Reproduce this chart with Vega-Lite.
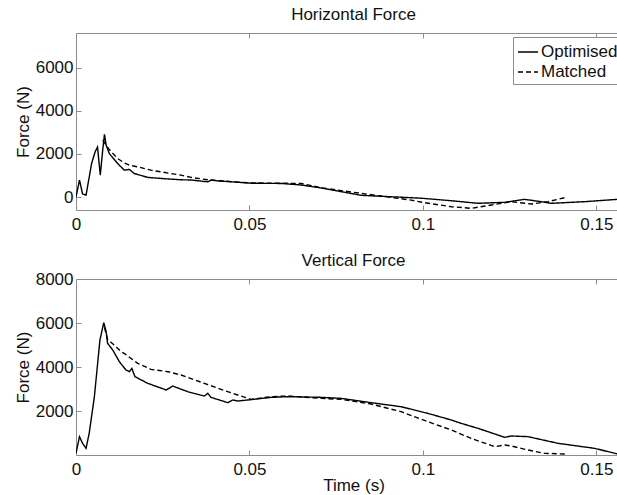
{
  "$schema": "https://vega.github.io/schema/vega-lite/v6.json",
  "background": "white",
  "padding": {"left": 13, "top": 5, "right": 0, "bottom": 0},
  "bounds": "flush",
  "spacing": 69,
  "config": {
    "font": "Liberation Sans",
    "view": {"stroke": "#8c8c8c", "strokeWidth": 1},
    "axis": {
      "domain": false,
      "tickColor": "#8c8c8c",
      "tickSize": 5,
      "grid": false,
      "labelFont": "Liberation Sans",
      "labelFontSize": 17,
      "labelColor": "#111",
      "labelFlush": false,
      "labelOverlap": false,
      "titleFont": "Liberation Sans",
      "titleFontSize": 17,
      "titleFontWeight": "normal",
      "titleColor": "#111"
    },
    "axisX": {"labelPadding": 6},
    "axisY": {"labelPadding": 3, "titlePadding": 3},
    "title": {"font": "Liberation Sans", "fontSize": 17, "fontWeight": "normal", "color": "#111", "offset": 9},
    "legend": {
      "orient": "none",
      "legendX": 437,
      "legendY": 4,
      "title": null,
      "strokeColor": "#8c8c8c",
      "fillColor": "white",
      "padding": 4,
      "symbolType": "stroke",
      "symbolSize": 400,
      "symbolStrokeWidth": 1.3,
      "symbolStrokeColor": "black",
      "labelFont": "Liberation Sans",
      "labelFontSize": 17,
      "labelColor": "#111",
      "labelOffset": 2,
      "rowPadding": 1
    }
  },
  "datasets": {
    "horiz": [
      {"t": 0.0, "F": 0, "s": "Optimised"},
      {"t": 0.001, "F": 785, "s": "Optimised"},
      {"t": 0.0019, "F": 140, "s": "Optimised"},
      {"t": 0.0029, "F": 92, "s": "Optimised"},
      {"t": 0.0045, "F": 1555, "s": "Optimised"},
      {"t": 0.0055, "F": 2090, "s": "Optimised"},
      {"t": 0.0062, "F": 2320, "s": "Optimised"},
      {"t": 0.007, "F": 1015, "s": "Optimised"},
      {"t": 0.0077, "F": 2170, "s": "Optimised"},
      {"t": 0.0082, "F": 2910, "s": "Optimised"},
      {"t": 0.0087, "F": 2400, "s": "Optimised"},
      {"t": 0.0096, "F": 2015, "s": "Optimised"},
      {"t": 0.012, "F": 1555, "s": "Optimised"},
      {"t": 0.0139, "F": 1245, "s": "Optimised"},
      {"t": 0.0154, "F": 1280, "s": "Optimised"},
      {"t": 0.0168, "F": 1090, "s": "Optimised"},
      {"t": 0.0207, "F": 910, "s": "Optimised"},
      {"t": 0.0255, "F": 850, "s": "Optimised"},
      {"t": 0.0303, "F": 800, "s": "Optimised"},
      {"t": 0.0332, "F": 790, "s": "Optimised"},
      {"t": 0.038, "F": 705, "s": "Optimised"},
      {"t": 0.0389, "F": 785, "s": "Optimised"},
      {"t": 0.0409, "F": 750, "s": "Optimised"},
      {"t": 0.0505, "F": 640, "s": "Optimised"},
      {"t": 0.0591, "F": 630, "s": "Optimised"},
      {"t": 0.0649, "F": 560, "s": "Optimised"},
      {"t": 0.0707, "F": 420, "s": "Optimised"},
      {"t": 0.0822, "F": 80, "s": "Optimised"},
      {"t": 0.09, "F": 20, "s": "Optimised"},
      {"t": 0.0966, "F": -30, "s": "Optimised"},
      {"t": 0.1, "F": -60, "s": "Optimised"},
      {"t": 0.1082, "F": -170, "s": "Optimised"},
      {"t": 0.1159, "F": -290, "s": "Optimised"},
      {"t": 0.1236, "F": -245, "s": "Optimised"},
      {"t": 0.1293, "F": -106, "s": "Optimised"},
      {"t": 0.1341, "F": -215, "s": "Optimised"},
      {"t": 0.137, "F": -290, "s": "Optimised"},
      {"t": 0.1466, "F": -215, "s": "Optimised"},
      {"t": 0.156, "F": -106, "s": "Optimised"},
      {"t": 0.16, "F": -80, "s": "Optimised"},
      {"t": 0.0077, "F": 2630, "s": "Matched"},
      {"t": 0.0096, "F": 2200, "s": "Matched"},
      {"t": 0.012, "F": 1785, "s": "Matched"},
      {"t": 0.0139, "F": 1585, "s": "Matched"},
      {"t": 0.0154, "F": 1475, "s": "Matched"},
      {"t": 0.0178, "F": 1400, "s": "Matched"},
      {"t": 0.0216, "F": 1245, "s": "Matched"},
      {"t": 0.0274, "F": 1090, "s": "Matched"},
      {"t": 0.0303, "F": 1015, "s": "Matched"},
      {"t": 0.0332, "F": 910, "s": "Matched"},
      {"t": 0.038, "F": 800, "s": "Matched"},
      {"t": 0.0409, "F": 760, "s": "Matched"},
      {"t": 0.0505, "F": 650, "s": "Matched"},
      {"t": 0.0591, "F": 640, "s": "Matched"},
      {"t": 0.0649, "F": 630, "s": "Matched"},
      {"t": 0.0707, "F": 430, "s": "Matched"},
      {"t": 0.0822, "F": 170, "s": "Matched"},
      {"t": 0.0966, "F": -140, "s": "Matched"},
      {"t": 0.1, "F": -250, "s": "Matched"},
      {"t": 0.1082, "F": -447, "s": "Matched"},
      {"t": 0.1139, "F": -523, "s": "Matched"},
      {"t": 0.1197, "F": -370, "s": "Matched"},
      {"t": 0.1255, "F": -215, "s": "Matched"},
      {"t": 0.1312, "F": -323, "s": "Matched"},
      {"t": 0.1361, "F": -215, "s": "Matched"},
      {"t": 0.1409, "F": -30, "s": "Matched"}
    ],
    "vert": [
      {"t": 0.0, "F": 77, "s": "Optimised"},
      {"t": 0.001, "F": 832, "s": "Optimised"},
      {"t": 0.0019, "F": 530, "s": "Optimised"},
      {"t": 0.0029, "F": 303, "s": "Optimised"},
      {"t": 0.0038, "F": 985, "s": "Optimised"},
      {"t": 0.0053, "F": 2650, "s": "Optimised"},
      {"t": 0.0069, "F": 5227, "s": "Optimised"},
      {"t": 0.008, "F": 6013, "s": "Optimised"},
      {"t": 0.0087, "F": 5606, "s": "Optimised"},
      {"t": 0.0091, "F": 5076, "s": "Optimised"},
      {"t": 0.0106, "F": 4772, "s": "Optimised"},
      {"t": 0.0125, "F": 4242, "s": "Optimised"},
      {"t": 0.0144, "F": 3863, "s": "Optimised"},
      {"t": 0.0154, "F": 3787, "s": "Optimised"},
      {"t": 0.0161, "F": 3939, "s": "Optimised"},
      {"t": 0.017, "F": 3560, "s": "Optimised"},
      {"t": 0.0207, "F": 3257, "s": "Optimised"},
      {"t": 0.026, "F": 2955, "s": "Optimised"},
      {"t": 0.0279, "F": 3136, "s": "Optimised"},
      {"t": 0.0293, "F": 3050, "s": "Optimised"},
      {"t": 0.0322, "F": 2878, "s": "Optimised"},
      {"t": 0.037, "F": 2681, "s": "Optimised"},
      {"t": 0.038, "F": 2803, "s": "Optimised"},
      {"t": 0.0389, "F": 2621, "s": "Optimised"},
      {"t": 0.0438, "F": 2378, "s": "Optimised"},
      {"t": 0.0452, "F": 2500, "s": "Optimised"},
      {"t": 0.0466, "F": 2454, "s": "Optimised"},
      {"t": 0.0495, "F": 2500, "s": "Optimised"},
      {"t": 0.0563, "F": 2621, "s": "Optimised"},
      {"t": 0.0611, "F": 2651, "s": "Optimised"},
      {"t": 0.0707, "F": 2621, "s": "Optimised"},
      {"t": 0.0764, "F": 2575, "s": "Optimised"},
      {"t": 0.0851, "F": 2378, "s": "Optimised"},
      {"t": 0.0937, "F": 2196, "s": "Optimised"},
      {"t": 0.1014, "F": 1894, "s": "Optimised"},
      {"t": 0.1082, "F": 1590, "s": "Optimised"},
      {"t": 0.111, "F": 1439, "s": "Optimised"},
      {"t": 0.1159, "F": 1212, "s": "Optimised"},
      {"t": 0.1236, "F": 803, "s": "Optimised"},
      {"t": 0.1255, "F": 864, "s": "Optimised"},
      {"t": 0.1303, "F": 834, "s": "Optimised"},
      {"t": 0.139, "F": 530, "s": "Optimised"},
      {"t": 0.1495, "F": 303, "s": "Optimised"},
      {"t": 0.1562, "F": 45, "s": "Optimised"},
      {"t": 0.16, "F": 0, "s": "Optimised"},
      {"t": 0.0082, "F": 5800, "s": "Matched"},
      {"t": 0.0091, "F": 5257, "s": "Matched"},
      {"t": 0.011, "F": 5000, "s": "Matched"},
      {"t": 0.013, "F": 4697, "s": "Matched"},
      {"t": 0.0139, "F": 4620, "s": "Matched"},
      {"t": 0.0149, "F": 4500, "s": "Matched"},
      {"t": 0.0178, "F": 4166, "s": "Matched"},
      {"t": 0.0216, "F": 3893, "s": "Matched"},
      {"t": 0.0265, "F": 3787, "s": "Matched"},
      {"t": 0.0303, "F": 3636, "s": "Matched"},
      {"t": 0.037, "F": 3257, "s": "Matched"},
      {"t": 0.0418, "F": 2985, "s": "Matched"},
      {"t": 0.0466, "F": 2727, "s": "Matched"},
      {"t": 0.0505, "F": 2530, "s": "Matched"},
      {"t": 0.0563, "F": 2651, "s": "Matched"},
      {"t": 0.0611, "F": 2681, "s": "Matched"},
      {"t": 0.0707, "F": 2575, "s": "Matched"},
      {"t": 0.0764, "F": 2530, "s": "Matched"},
      {"t": 0.0851, "F": 2318, "s": "Matched"},
      {"t": 0.0937, "F": 1970, "s": "Matched"},
      {"t": 0.1014, "F": 1515, "s": "Matched"},
      {"t": 0.1082, "F": 1136, "s": "Matched"},
      {"t": 0.1139, "F": 757, "s": "Matched"},
      {"t": 0.1207, "F": 379, "s": "Matched"},
      {"t": 0.1236, "F": 454, "s": "Matched"},
      {"t": 0.1255, "F": 409, "s": "Matched"},
      {"t": 0.1303, "F": 227, "s": "Matched"},
      {"t": 0.1351, "F": 76, "s": "Matched"},
      {"t": 0.1409, "F": 45, "s": "Matched"}
    ]
  },
  "vconcat": [
    {
      "title": {"text": "Horizontal Force"},
      "width": 555,
      "height": 177,
      "data": {"name": "horiz"},
      "resolve": {"axis": {"x": "independent", "y": "independent"}},
      "layer": [
        {
          "mark": {"type": "line", "color": "black", "strokeWidth": 1.4, "clip": true},
          "encoding": {
            "x": {"field": "t", "type": "quantitative", "scale": {"domain": [0, 0.16], "nice": false, "zero": false},
                  "axis": {"orient": "bottom", "values": [0, 0.05, 0.1, 0.15], "format": "~g", "title": null, "ticks": false}},
            "y": {"field": "F", "type": "quantitative", "scale": {"domain": [-600, 7600], "nice": false, "zero": false},
                  "axis": {"orient": "left", "values": [0, 2000, 4000, 6000], "format": "d", "title": "Force (N)", "ticks": false}},
            "strokeDash": {"field": "s", "type": "nominal",
                           "scale": {"domain": ["Optimised", "Matched"], "range": [[1, 0], [5, 3]]}}
          }
        },
        {
          "mark": {"type": "line", "opacity": 0},
          "encoding": {
            "x": {"field": "t", "type": "quantitative",
                  "axis": {"orient": "top", "offset": -5, "values": [0.05, 0.1, 0.15], "labels": false, "title": null}},
            "y": {"field": "F", "type": "quantitative", "axis": null}
          }
        },
        {
          "mark": {"type": "line", "opacity": 0},
          "encoding": {
            "x": {"field": "t", "type": "quantitative",
                  "axis": {"orient": "bottom", "offset": -5, "values": [0.05, 0.1, 0.15], "labels": false, "title": null}},
            "y": {"field": "F", "type": "quantitative", "axis": null}
          }
        },
        {
          "mark": {"type": "line", "opacity": 0},
          "encoding": {
            "x": {"field": "t", "type": "quantitative", "axis": null},
            "y": {"field": "F", "type": "quantitative",
                  "axis": {"orient": "left", "offset": -5, "values": [0, 2000, 4000, 6000], "labels": false, "title": null}}
          }
        }
      ]
    },
    {
      "title": {"text": "Vertical Force", "offset": 0},
      "width": 555,
      "height": 176,
      "data": {"name": "vert"},
      "resolve": {"axis": {"x": "independent", "y": "independent"}},
      "layer": [
        {
          "mark": {"type": "line", "color": "black", "strokeWidth": 1.4, "clip": true},
          "encoding": {
            "x": {"field": "t", "type": "quantitative", "scale": {"domain": [0, 0.16], "nice": false, "zero": false},
                  "axis": {"orient": "bottom", "values": [0, 0.05, 0.1, 0.15], "format": "~g", "title": "Time (s)", "titlePadding": 0, "ticks": false}},
            "y": {"field": "F", "type": "quantitative", "scale": {"domain": [0, 8000], "nice": false},
                  "axis": {"orient": "left", "values": [2000, 4000, 6000, 8000], "format": "d", "title": "Force (N)", "ticks": false}},
            "strokeDash": {"field": "s", "type": "nominal",
                           "scale": {"domain": ["Optimised", "Matched"], "range": [[1, 0], [5, 3]]}}
          }
        },
        {
          "mark": {"type": "line", "opacity": 0},
          "encoding": {
            "x": {"field": "t", "type": "quantitative",
                  "axis": {"orient": "top", "offset": -5, "values": [0.05, 0.1, 0.15], "labels": false, "title": null}},
            "y": {"field": "F", "type": "quantitative", "axis": null}
          }
        },
        {
          "mark": {"type": "line", "opacity": 0},
          "encoding": {
            "x": {"field": "t", "type": "quantitative",
                  "axis": {"orient": "bottom", "offset": -5, "values": [0.05, 0.1, 0.15], "labels": false, "title": null}},
            "y": {"field": "F", "type": "quantitative", "axis": null}
          }
        },
        {
          "mark": {"type": "line", "opacity": 0},
          "encoding": {
            "x": {"field": "t", "type": "quantitative", "axis": null},
            "y": {"field": "F", "type": "quantitative",
                  "axis": {"orient": "left", "offset": -5, "values": [2000, 4000, 6000], "labels": false, "title": null}}
          }
        }
      ]
    }
  ]
}
